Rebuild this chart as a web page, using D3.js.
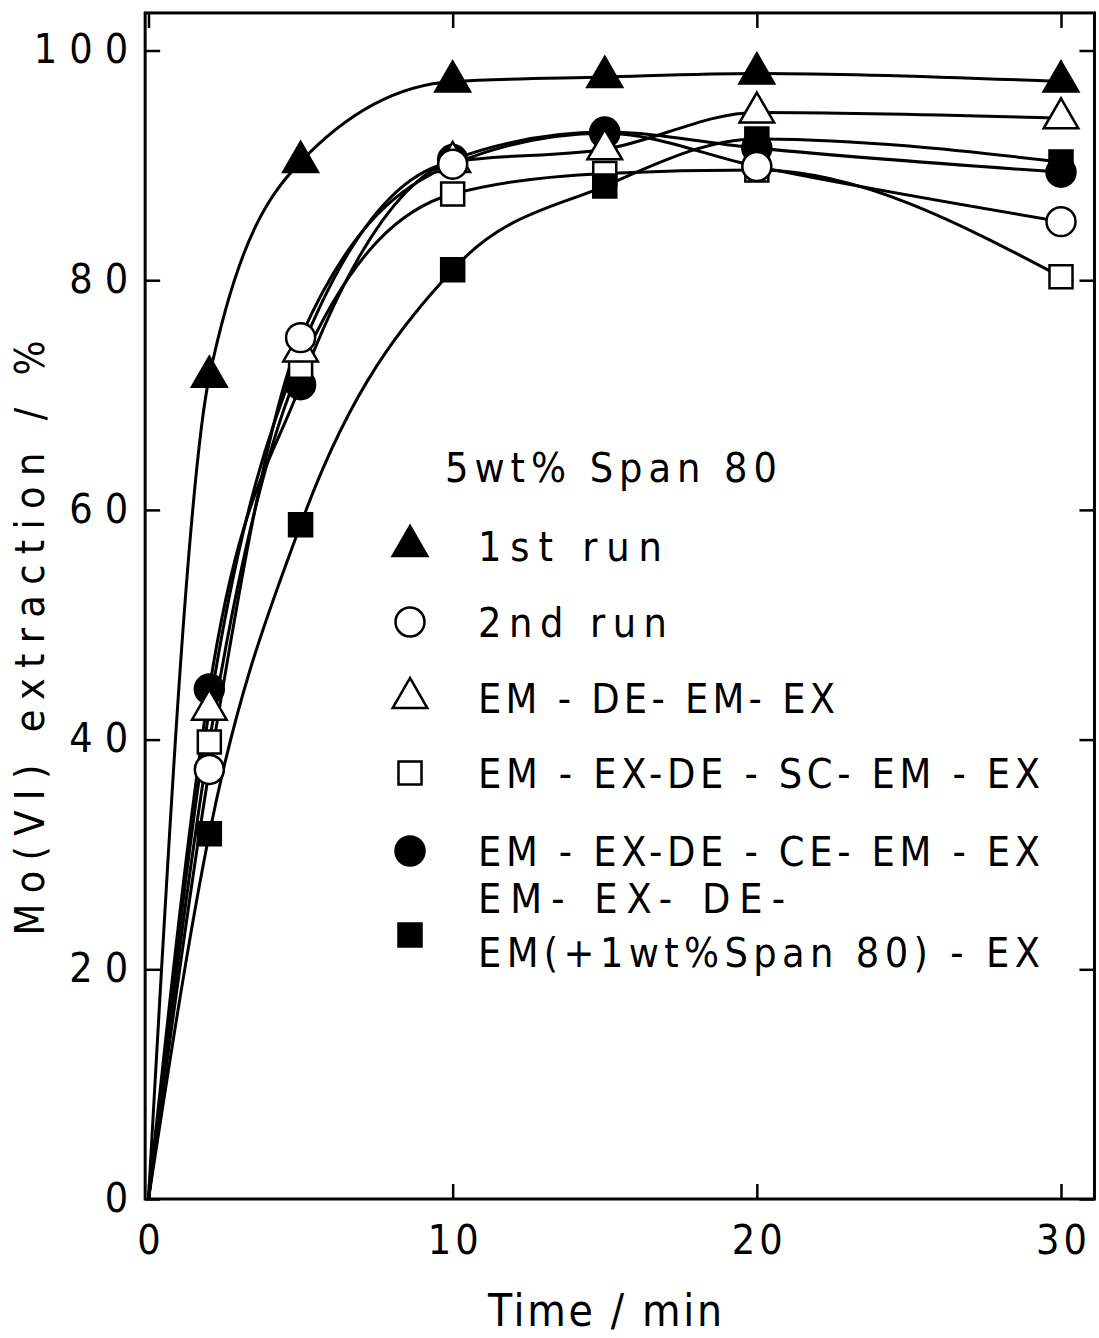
<!DOCTYPE html>
<html>
<head>
<meta charset="utf-8">
<script src="https://cdn.jsdelivr.net/npm/d3@7"></script>
<style>
  html, body { margin: 0; padding: 0; background: #fff; }
  svg { display: block; }
  text { font-family: "DejaVu Sans Condensed", "DejaVu Sans", sans-serif; fill: #000; }
</style>
</head>
<body>
<svg id="chart" width="1099" height="1338"></svg>
<script>
// Sampling times (min)
const times = [0, 2, 5, 10, 15, 20, 30];

// Mo(VI) extraction (%) for each emulsion treatment
const firstRun   = [0, 71.6, 90.3, 97.3, 97.7, 98.0, 97.3];
const secondRun  = [0, 37.4, 75.0, 90.1, 92.8, 89.9, 85.1];
const emDeEmEx   = [0, 42.6, 73.8, 90.3, 91.4, 94.6, 94.1];
const scSequence = [0, 39.8, 72.5, 87.5, 89.3, 89.6, 80.3];
const ceSequence = [0, 44.4, 70.9, 90.5, 92.9, 91.5, 89.4];
const spanAdded  = [0, 31.8, 58.7, 80.9, 88.2, 92.3, 90.3];

// Axis ticks
const xTicks = [0, 10, 20, 30];
const yTicks = [0, 20, 40, 60, 80, 100];

// Labels
const legendTitle = "5wt% Span 80";
const seriesLabels = [
  ["1st  run"],
  ["2nd  run"],
  ["EM - DE- EM- EX"],
  ["EM - EX-DE - SC- EM - EX"],
  ["EM - EX-DE - CE- EM - EX"],
  ["EM- EX- DE-", "EM(+1wt%Span 80) - EX"]
];
const xTitle = "Time / min";
const yTitle = "Mo(VI)  extraction / %";

// Series table built from the arrays above
const series = [
  { values: firstRun,   shape: "triangle", filled: true  },
  { values: secondRun,  shape: "circle",   filled: false },
  { values: emDeEmEx,   shape: "triangle", filled: false },
  { values: scSequence, shape: "square",   filled: false },
  { values: ceSequence, shape: "circle",   filled: true  },
  { values: spanAdded,  shape: "square",   filled: true  }
].map((s, i) => ({
  ...s,
  labels: seriesLabels[i],
  points: times.map((t, j) => ({ t, v: s.values[j] }))
}));

// Marker stacking: general order, plus single points that sit beneath everything
const markerOrder = [4, 0, 3, 5, 2, 1];
const underlaid = [[1, 15]];
const isUnder = (i, t) => underlaid.some(([si, ti]) => si === i && ti === t);

const svg = d3.select("#chart");
const x = d3.scaleLinear().domain([0, 30]).range([148.5, 1061]);
const y = d3.scaleLinear().domain([0, 100]).range([1199, 50.5]);

const frame = { left: x(-0.11), right: x(31.1), top: y(103.27), bottom: y(0) };

const symbolTypes = { triangle: d3.symbolTriangle, circle: d3.symbolCircle, square: d3.symbolSquare };
const symbolSizes = { triangle: 520, circle: 660, square: 530 };
const symbolPath = shape => d3.symbol().type(symbolTypes[shape]).size(symbolSizes[shape])();

// Axes: inward ticks on all four sides
const tickLen = 15;
const axisStyle = g => {
  g.select(".domain").remove();
  g.selectAll(".tick line").attr("stroke", "#000").attr("stroke-width", 2.5);
  g.selectAll(".tick text").attr("font-size", 41).attr("fill", "#000")
    .style("font-family", '"DejaVu Sans Condensed", "DejaVu Sans", sans-serif');
};

svg.append("g")
  .attr("transform", `translate(0,${frame.bottom})`)
  .call(d3.axisBottom(x).tickValues(xTicks).tickSizeInner(-tickLen).tickSizeOuter(0).tickPadding(26))
  .call(axisStyle)
  .call(g => g.selectAll(".tick text").style("letter-spacing", "4px").attr("dx", 2));

svg.append("g")
  .attr("transform", `translate(0,${frame.top})`)
  .call(d3.axisTop(x).tickValues(xTicks).tickSizeInner(-tickLen).tickSizeOuter(0).tickFormat(""))
  .call(axisStyle);

svg.append("g")
  .attr("transform", `translate(${frame.left},0)`)
  .call(d3.axisLeft(y).tickValues(yTicks).tickSizeInner(-tickLen).tickSizeOuter(0).tickPadding(5))
  .call(axisStyle)
  .call(g => g.selectAll(".tick text").style("letter-spacing", "12px").attr("dy", "0.30em"));

svg.append("g")
  .attr("transform", `translate(${frame.right},0)`)
  .call(d3.axisRight(y).tickValues(yTicks).tickSizeInner(-tickLen).tickSizeOuter(0).tickFormat(""))
  .call(axisStyle);

// Plot frame
svg.append("rect")
  .attr("x", frame.left).attr("y", frame.top)
  .attr("width", frame.right - frame.left).attr("height", frame.bottom - frame.top)
  .attr("fill", "none").attr("stroke", "#000").attr("stroke-width", 3);

// Smoothed curves through the measurements, all starting at the origin
const line = d3.line().x(d => x(d.t)).y(d => y(d.v)).curve(d3.curveMonotoneX);
svg.append("g").selectAll("path")
  .data(series).join("path")
  .attr("d", d => line(d.points))
  .attr("fill", "none").attr("stroke", "#000").attr("stroke-width", 3);

// Markers (the origin is a shared start point and carries no symbol)
const markerLayer = svg.append("g");
const drawMarkers = (s, pts) => {
  markerLayer.selectAll(null)
    .data(pts).join("path")
    .attr("transform", p => `translate(${x(p.t)},${y(p.v)})`)
    .attr("d", symbolPath(s.shape))
    .attr("fill", s.filled ? "#000" : "#fff")
    .attr("stroke", "#000").attr("stroke-width", 2.5);
};
underlaid.forEach(([i, t]) => drawMarkers(series[i], series[i].points.filter(p => p.t === t)));
markerOrder.forEach(i => {
  const s = series[i];
  drawMarkers(s, s.points.filter(p => p.t > 0 && !isUnder(i, p.t)));
});

// Legend
const legend = svg.append("g");
legend.append("text")
  .attr("x", 445).attr("y", 482)
  .attr("font-size", 41)
  .attr("textLength", 332).attr("lengthAdjust", "spacing")
  .text(legendTitle);

const rowY = [546, 622, 698, 773, 851, 935];
const labelWidths = [[184], [189], [357], [562], [562], [307, 562]];
series.forEach((s, i) => {
  legend.append("path")
    .attr("transform", `translate(410,${rowY[i]})`)
    .attr("d", symbolPath(s.shape))
    .attr("fill", s.filled ? "#000" : "#fff")
    .attr("stroke", "#000").attr("stroke-width", 2.5);
  const n = s.labels.length;
  s.labels.forEach((lab, k) => {
    const base = n === 1 ? rowY[i] + 15 : rowY[i] - 22 + k * 54;
    legend.append("text")
      .attr("x", 478).attr("y", base)
      .attr("font-size", 41)
      .attr("textLength", labelWidths[i][k]).attr("lengthAdjust", "spacing")
      .text(lab);
  });
});

// Axis titles
svg.append("text")
  .attr("x", 605).attr("y", 1326)
  .attr("text-anchor", "middle")
  .attr("font-size", 44)
  .attr("textLength", 234).attr("lengthAdjust", "spacing")
  .text(xTitle);

svg.append("text")
  .attr("transform", "translate(44,638) rotate(-90)")
  .attr("text-anchor", "middle")
  .attr("font-size", 41)
  .attr("textLength", 595).attr("lengthAdjust", "spacing")
  .text(yTitle);
</script>
</body>
</html>
